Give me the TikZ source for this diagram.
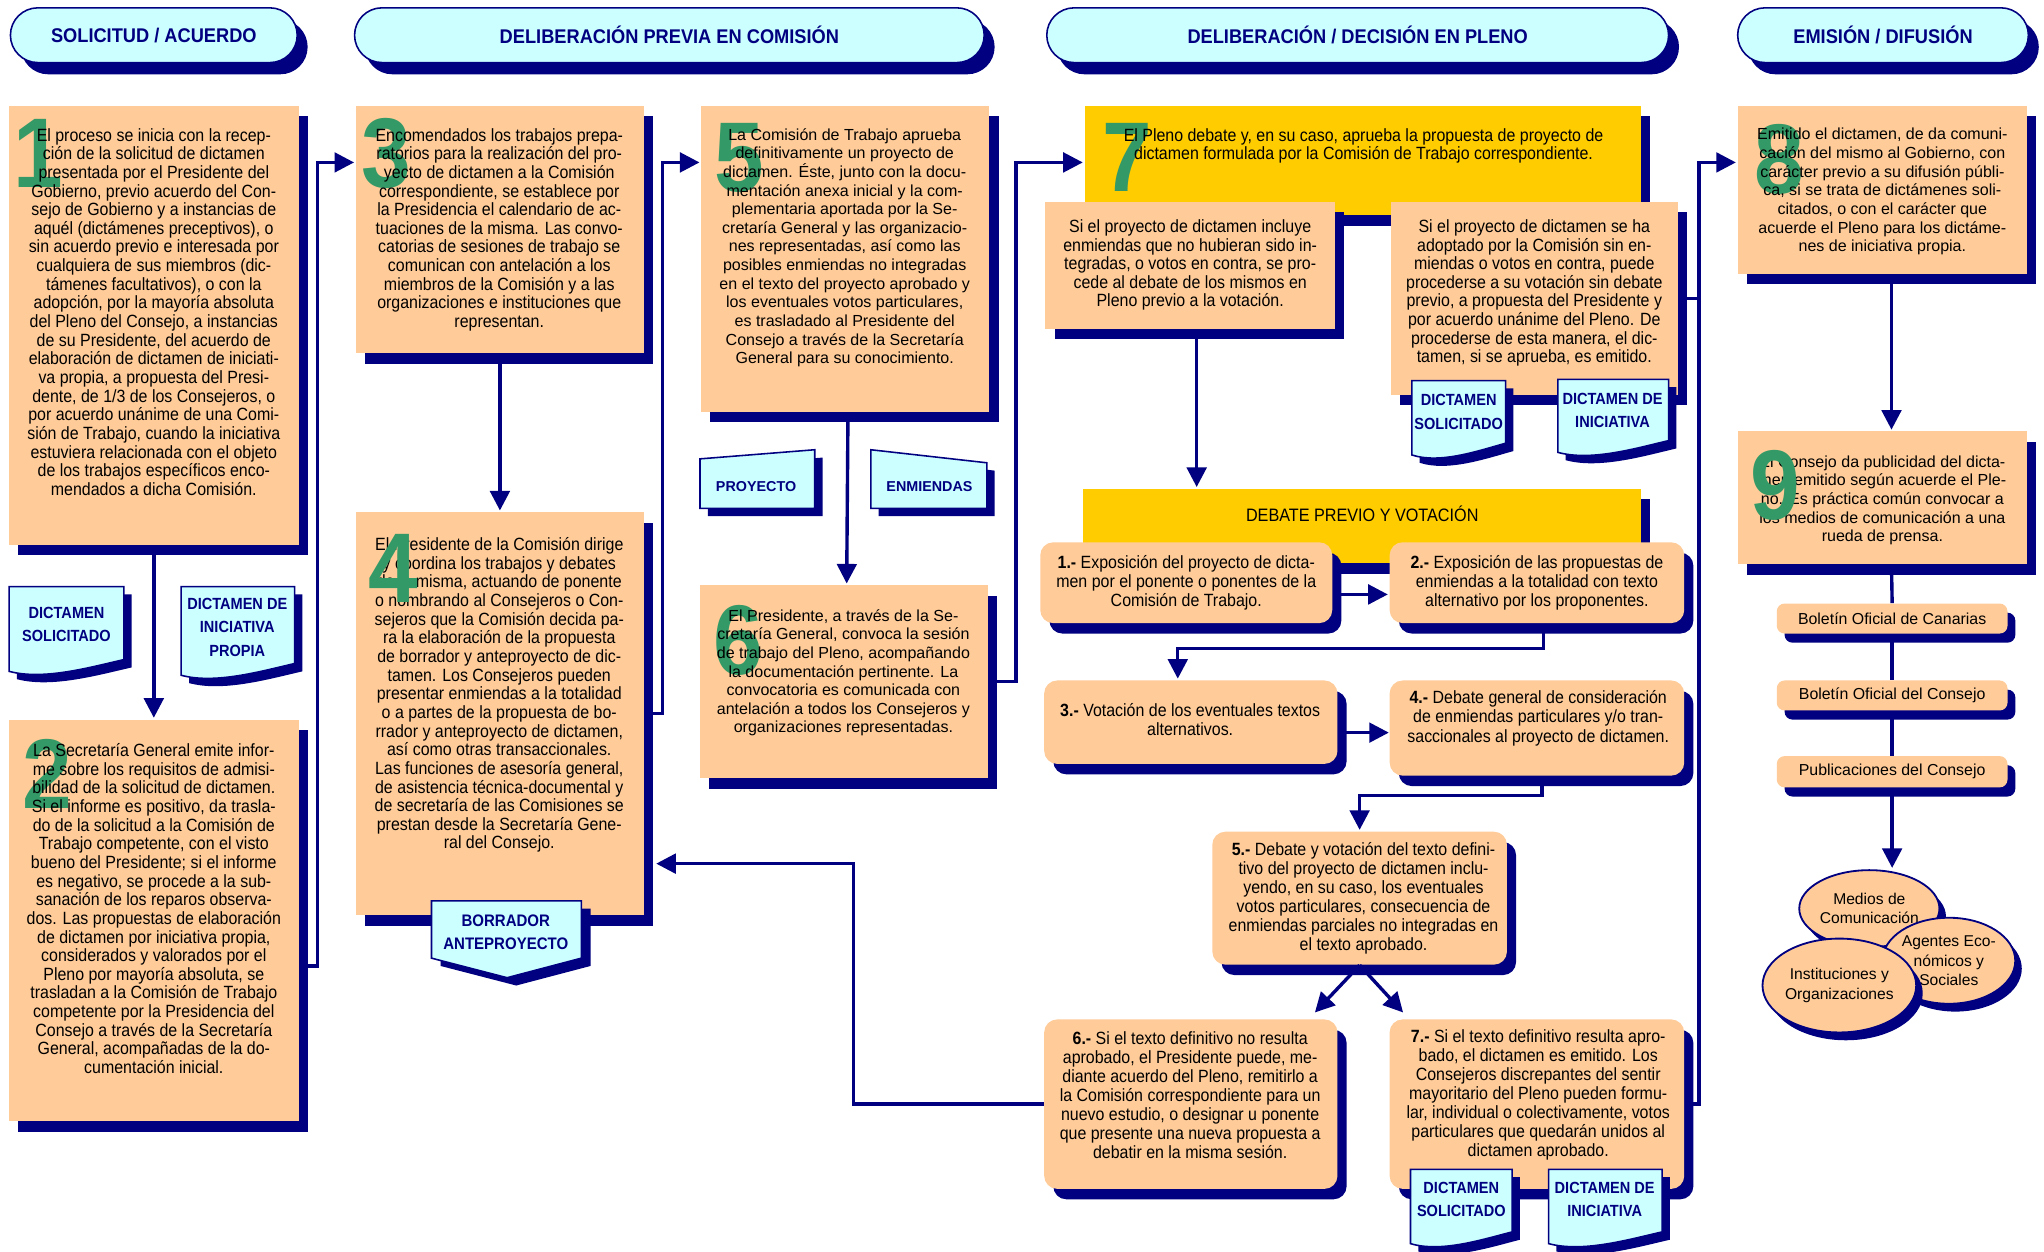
\documentclass[tikz,border=0pt]{standalone}
\usepackage{fontspec}
\setmainfont{Liberation Sans}
\newfontfamily\nar[FakeStretch=0.9]{Liberation Sans}
\newfontfamily\hdrfont[FakeStretch=0.92]{Liberation Sans}
\usetikzlibrary{shapes.misc,shapes.geometric,shadows,fit,arrows.meta,calc}
\definecolor{navy}{HTML}{000080}
\definecolor{peach}{HTML}{FFCC99}
\definecolor{cyanl}{HTML}{CCFFFF}
\definecolor{gold}{HTML}{FFCC00}
\definecolor{numgreen}{HTML}{339966}
\tikzset{
 shad/.style={general shadow={fill=navy, shadow xshift=3.5pt, shadow yshift=-4pt}},
 pbox/.style={rectangle, fill=peach, inner sep=0pt, shad},
 ybox/.style={rectangle, fill=gold, inner sep=0pt, shad},
 rbox/.style={rectangle, rounded corners=5pt, fill=peach, inner sep=0pt, shad},
 bul/.style={rectangle, rounded corners=3pt, fill=peach, inner sep=0pt, general shadow={fill=navy, shadow xshift=3pt, shadow yshift=-3.5pt}},
 hdr/.style={rectangle, rounded corners=10.5pt, draw=navy, line width=0.6pt, fill=cyanl, inner sep=0pt, general shadow={fill=navy, shadow xshift=4pt, shadow yshift=-4.5pt}},
 hdrtxt/.style={font=\hdrfont\bfseries\fontsize{7.6}{9}\selectfont, text=navy, inner sep=0pt},
 tn/.style={font=\nar\fontsize{6.8}{7.15}\selectfont, align=center, inner sep=0pt, anchor=north},
 tr/.style={font=\fontsize{6.15}{7.15}\selectfont, align=center, inner sep=0pt, anchor=north},
 stp/.style={font=\nar\fontsize{6.8}{7.3}\selectfont, align=center, inner sep=0pt},
 bultxt/.style={font=\fontsize{6.1}{7}\selectfont, inner sep=0pt},
 ell/.style={ellipse, draw=navy, line width=0.7pt, fill=peach, align=center, inner sep=0pt, font=\fontsize{6}{7.4}\selectfont, general shadow={fill=navy, shadow xshift=2.5pt, shadow yshift=-3pt}},
 bignum/.style={font=\nar\bfseries\fontsize{38}{38}\selectfont, text=numgreen, inner sep=0pt},
 conn/.style={draw=navy, line width=1.3pt, -{Triangle[length=7.5pt,width=7.5pt]}, shorten >=0.5pt},
 navline/.style={draw=navy, line width=1.3pt},
 docfill/.style={fill=cyanl, draw=navy, line width=0.6pt},
 doctxt/.style={font=\nar\bfseries\fontsize{6.2}{9}\selectfont, text=navy, align=center, inner sep=0pt},
 tagtxt/.style={font=\bfseries\fontsize{5.5}{7}\selectfont, text=navy, inner sep=0pt},
}
% document shape: x1 y1 x2 y2
\newcommand\docsh[4]{%
 \fill[navy, shift={(6,6)}] (#1,#2) -- (#3,#2) -- (#3,#4-12) .. controls ({#1+0.7*(#3-#1)},#4-6) and ({#1+0.3*(#3-#1)},#4+4) .. (#1,#4-3) -- cycle;
 \filldraw[docfill] (#1,#2) -- (#3,#2) -- (#3,#4-12) .. controls ({#1+0.7*(#3-#1)},#4-6) and ({#1+0.3*(#3-#1)},#4+4) .. (#1,#4-3) -- cycle;
}
\begin{document}
\begin{tikzpicture}[x=0.5pt,y=-0.5pt]
\useasboundingbox[fill=white] (0,0) rectangle (1568,960);

% ---------- headers ----------
\node[hdr, fit={(8,6) (228,48)}] (h1) {};
\node[hdrtxt] (h1t) at (h1) {SOLICITUD / ACUERDO};
\node[hdr, fit={(272,6) (755,48)}] (h2) {};
\node[hdrtxt] (h2t) at (h2) {DELIBERACIÓN PREVIA EN COMISIÓN};
\node[hdr, fit={(803,6) (1280,48)}] (h3) {};
\node[hdrtxt] (h3t) at (h3) {DELIBERACIÓN / DECISIÓN EN PLENO};
\node[hdr, fit={(1333,6) (1556,48)}] (h4) {};
\node[hdrtxt] (h4t) at (h4) {EMISIÓN / DIFUSIÓN};

% ---------- column 1 ----------
\node[pbox, fit={(7,81) (229,418)}] (b1) {};
\node[bignum] (n1) at (29,118) {1};
\node[tn] (t1) at (118,98) {El proceso se inicia con la recep-\\ción de la solicitud de dictamen\\presentada por el Presidente del\\Gobierno, previo acuerdo del Con-\\sejo de Gobierno y a instancias de\\aquél (dictámenes preceptivos), o\\sin acuerdo previo e interesada por\\cualquiera de sus miembros (dic-\\támenes facultativos), o con la\\adopción, por la mayoría absoluta\\del Pleno del Consejo, a instancias\\de su Presidente, del acuerdo de\\elaboración de dictamen de iniciati-\\va propia, a propuesta del Presi-\\dente, de 1/3 de los Consejeros, o\\por acuerdo unánime de una Comi-\\sión de Trabajo, cuando la iniciativa\\estuviera relacionada con el objeto\\de los trabajos específicos enco-\\mendados a dicha Comisión.};

\docsh{7}{450}{95}{518}
\node[doctxt] (d1) at (51,479) {DICTAMEN\\SOLICITADO};
\docsh{139}{450}{226}{521}
\node[doctxt] (d2) at (182,481) {DICTAMEN DE\\INICIATIVA\\PROPIA};

\node[pbox, fit={(7,552) (229,860)}] (b2) {};
\node[bignum] (n2) at (36,594) {2};
\node[tn] (t2) at (118,570) {La Secretaría General emite infor-\\me sobre los requisitos de admisi-\\bilidad de la solicitud de dictamen.\\Si el informe es positivo, da trasla-\\do de la solicitud a la Comisión de\\Trabajo competente, con el visto\\bueno del Presidente; si el informe\\es negativo, se procede a la sub-\\sanación de los reparos observa-\\dos. Las propuestas de elaboración\\de dictamen por iniciativa propia,\\considerados y valorados por el\\Pleno por mayoría absoluta, se\\trasladan a la Comisión de Trabajo\\competente por la Presidencia del\\Consejo a través de la Secretaría\\General, acompañadas de la do-\\cumentación inicial.};

% ---------- column 2 ----------
\node[pbox, fit={(273,81) (494,271)}] (b3) {};
\node[bignum] (n3) at (296,118) {3};
\node[tn] (t3) at (383,98) {Encomendados los trabajos prepa-\\ratorios para la realización del pro-\\yecto de dictamen a la Comisión\\correspondiente, se establece por\\la Presidencia el calendario de ac-\\tuaciones de la misma. Las convo-\\catorias de sesiones de trabajo se\\comunican con antelación a los\\miembros de la Comisión y a las\\organizaciones e instituciones que\\representan.};

\node[pbox, fit={(273,393) (494,702)}] (b4) {};
\node[tn] (t4) at (383,412) {El Presidente de la Comisión dirige\\y coordina los trabajos y debates\\de la misma, actuando de ponente\\o nombrando al Consejeros o Con-\\sejeros que la Comisión decida pa-\\ra la elaboración de la propuesta\\de borrador y anteproyecto de dic-\\tamen. Los Consejeros pueden\\presentar enmiendas a la totalidad\\o a partes de la propuesta de bo-\\rrador y anteproyecto de dictamen,\\así como otras transaccionales.\\Las funciones de asesoría general,\\de asistencia técnica-documental y\\de secretaría de las Comisiones se\\prestan desde la Secretaría Gene-\\ral del Consejo.};
\node[bignum] (n4) at (302,436) {4};

\fill[navy, shift={(7,6)}] (331,691) -- (446,691) -- (446,735) -- (389,750) -- (331,735) -- cycle;
\filldraw[docfill] (331,691) -- (446,691) -- (446,735) -- (389,750) -- (331,735) -- cycle;
\node[doctxt, font=\nar\bfseries\fontsize{6.4}{9}\selectfont] (bor) at (388,715) {BORRADOR\\ANTEPROYECTO};

% ---------- column 3 ----------
\node[pbox, fit={(538,81) (759,316)}] (b5) {};
\node[bignum] (n5) at (567,121) {5};
\node[tr] (t5) at (648,98) {La Comisión de Trabajo aprueba\\definitivamente un proyecto de\\dictamen. Éste, junto con la docu-\\mentación anexa inicial y la com-\\plementaria aportada por la Se-\\cretaría General y las organizacio-\\nes representadas, así como las\\posibles enmiendas no integradas\\en el texto del proyecto aprobado y\\los eventuales votos particulares,\\es trasladado al Presidente del\\Consejo a través de la Secretaría\\General para su conocimiento.};

\fill[navy, shift={(6,6)}] (537,352) -- (625,345) -- (625,390) -- (537,390) -- cycle;
\filldraw[docfill] (537,352) -- (625,345) -- (625,390) -- (537,390) -- cycle;
\node[tagtxt] (proy) at (580,373) {PROYECTO};
\fill[navy, shift={(6,6)}] (668,345) -- (757,355) -- (757,390) -- (668,390) -- cycle;
\filldraw[docfill] (668,345) -- (757,355) -- (757,390) -- (668,390) -- cycle;
\node[tagtxt] (enm) at (713,373) {ENMIENDAS};

\node[pbox, fit={(537,449) (758,597)}] (b6) {};
\node[bignum] (n6) at (566,491) {6};
\node[tr] (t6) at (647,467) {El Presidente, a través de la Se-\\cretaría General, convoca la sesión\\de trabajo del Pleno, acompañando\\la documentación pertinente. La\\convocatoria es comunicada con\\antelación a todos los Consejeros y\\organizaciones representadas.};

% ---------- column 4 ----------
\node[ybox, fit={(832,81) (1259,165)}] (b7) {};
\node[bignum] (n7) at (865,121) {7};
\node[tn] (t7) at (1046,98) {El Pleno debate y, en su caso, aprueba la propuesta de proyecto de\\dictamen formulada por la Comisión de Trabajo correspondiente.};

\node[pbox, fit={(802,155) (1024,252)}] (s7a) {};
\node[tn] (t7a) at (913,168) {Si el proyecto de dictamen incluye\\enmiendas que no hubieran sido in-\\tegradas, o votos en contra, se pro-\\cede al debate de los mismos en\\Pleno previo a la votación.};
\node[pbox, fit={(1067,155) (1287,303)}] (s7b) {};
\node[tn] (t7b) at (1177,168) {Si el proyecto de dictamen se ha\\adoptado por la Comisión sin en-\\miendas o votos en contra, puede\\procederse a su votación sin debate\\previo, a propuesta del Presidente y\\por acuerdo unánime del Pleno. De\\procederse de esta manera, el dic-\\tamen, si se aprueba, es emitido.};
\docsh{1083}{292}{1155}{352}
\node[doctxt] (d3) at (1119,316) {DICTAMEN\\SOLICITADO};
\docsh{1195}{291}{1280}{350}
\node[doctxt] (d4) at (1237,315) {DICTAMEN DE\\INICIATIVA};

\node[ybox, fit={(831,375) (1259,432)}] (deb) {};
\node[font=\nar\fontsize{6.9}{8}\selectfont, inner sep=0pt] (debt) at (1045,394) {DEBATE PREVIO Y VOTACIÓN};

\node[rbox, fit={(798,416) (1022,478)}] (st1) {};
\node[stp] (st1t) at (910,447) {\textbf{1.-} Exposición del proyecto de dicta-\\men por el ponente o ponentes de la\\Comisión de Trabajo.};
\node[rbox, fit={(1066,416) (1292,478)}] (st2) {};
\node[stp] (st2t) at (1179,447) {\textbf{2.-} Exposición de las propuestas de\\enmiendas a la totalidad con texto\\alternativo por los proponentes.};
\node[rbox, fit={(801,522) (1026,586)}] (st3) {};
\node[stp] (st3t) at (913,552) {\textbf{3.-} Votación de los eventuales textos\\alternativos.};
\node[rbox, fit={(1066,522) (1292,595)}] (st4) {};
\node[stp] (st4t) at (1180,551) {\textbf{4.-} Debate general de consideración\\de enmiendas particulares y/o tran-\\saccionales al proyecto de dictamen.};
\node[rbox, fit={(930,638) (1156,740)}] (st5) {};
\node[stp] (st5t) at (1046,689) {\textbf{5.-} Debate y votación del texto defini-\\tivo del proyecto de dictamen inclu-\\yendo, en su caso, los eventuales\\votos particulares, consecuencia de\\enmiendas parciales no integradas en\\el texto aprobado.};
\node[rbox, fit={(801,782) (1026,912)}] (st6) {};
\node[stp] (st6t) at (913,840) {\textbf{6.-} Si el texto definitivo no resulta\\aprobado, el Presidente puede, me-\\diante acuerdo del Pleno, remitirlo a\\la Comisión correspondiente para un\\nuevo estudio, o designar u ponente\\que presente una nueva propuesta a\\debatir en la misma sesión.};
\node[rbox, fit={(1066,782) (1292,912)}] (st7) {};
\node[stp] (st7t) at (1180,840) {\textbf{7.-} Si el texto definitivo resulta apro-\\bado, el dictamen es emitido. Los\\Consejeros discrepantes del sentir\\mayoritario del Pleno pueden formu-\\lar, individual o colectivamente, votos\\particulares que quedarán unidos al\\dictamen aprobado.};
\docsh{1082}{897}{1160}{957}
\node[doctxt] (d5) at (1121,920) {DICTAMEN\\SOLICITADO};
\docsh{1188}{897}{1275}{957}
\node[doctxt] (d6) at (1231,920) {DICTAMEN DE\\INICIATIVA};

% ---------- column 5 ----------
\node[pbox, fit={(1333,81) (1555,210)}] (b8) {};
\node[bignum] (n8) at (1365,122) {8};
\node[tr] (t8) at (1444,98) {Emitido el dictamen, de da comuni-\\cación del mismo al Gobierno, con\\carácter previo a su difusión públi-\\ca, si se trata de dictámenes soli-\\citados, o con el carácter que\\acuerde el Pleno para los dictáme-\\nes de iniciativa propia.};

\node[pbox, fit={(1333,331) (1555,433)}] (b9) {};
\node[tr] (t9) at (1444,349) {El Consejo da publicidad del dicta-\\men emitido según acuerde el Ple-\\no. Es práctica común convocar a\\los medios de comunicación a una\\rueda de prensa.};
\node[bignum] (n9) at (1362,372) {9};

\node[bul, fit={(1363,463) (1540,486)}] (bul1) {};
\node[bultxt] (bul1t) at (bul1) {Boletín Oficial de Canarias};
\node[bul, fit={(1363,522) (1540,545)}] (bul2) {};
\node[bultxt] (bul2t) at (bul2) {Boletín Oficial del Consejo};
\node[bul, fit={(1363,580) (1540,604)}] (bul3) {};
\node[bultxt] (bul3t) at (bul3) {Publicaciones del Consejo};

\node[ell, minimum width=48.5pt, minimum height=29.5pt] (med) at (1434,697) {Medios de\\Comunicación};
\node[ell, minimum width=48pt, minimum height=33pt] (age) at (1495,737) {Agentes Eco-\\nómicos y\\Sociales};
\node[ell, minimum width=50pt, minimum height=36pt] (ins) at (1411,756) {Instituciones y\\Organizaciones};

% ---------- connectors ----------
\draw[conn] (b1.south) -- (b2.north);
\draw[conn] ([yshift=-17.5pt]b2.east) -- ++(7pt,0) |- ([yshift=-22pt]b3.north west);
\draw[conn] (b3.south) -- (b4.north);
\draw[conn] (b4.east) -- ++(7pt,0) |- ([yshift=-22pt]b5.north west);
\draw[conn] ([xshift=1pt]b5.south) -- ([xshift=1pt]b6.north);
\draw[conn] (b6.east) -- ++(10.5pt,0) |- ([yshift=-22pt]b7.north west);
\draw[conn] ([xshift=2.5pt]s7a.south) -- ([xshift=2.5pt]s7a.south |- deb.north);
\draw[conn] ([yshift=-4.5pt]st1.east) -- ([yshift=-4.5pt]st2.west);
\draw[conn] ([xshift=2.5pt]st2.south) -- ++(0,-9.5pt) -| ([xshift=-5pt]st3.north);
\draw[conn] ([yshift=-4pt]st3.east) -- ++(20pt,0);
\draw[conn] ([xshift=2pt]st4.south) -- ++(0,-7.5pt) -| (st5.north);
\draw[conn] (st5.south) -- ++(-17.5pt,-18.5pt);
\draw[conn] (st5.south) -- ++(17pt,-18.5pt);
\draw[conn] (st6.west) -- ++(-73pt,0) |- ([xshift=4pt,yshift=-57.5pt]b4.east);
\draw[conn] (st7.east) -- ++(5.5pt,0) |- ([yshift=-22pt]b8.north west);
\draw[navline] (s7b.east) -- ++(8pt,0);
\draw[conn] ([xshift=3.5pt]b8.south) -- ([xshift=3.5pt]b9.north);
\draw[navline] ([xshift=3.5pt]b9.south) -- (bul1.north);
\draw[navline] (bul1.south) -- (bul2.north);
\draw[navline] (bul2.south) -- (bul3.north);
\draw[conn] (bul3.south) -- (bul3.south |- med.north);
\end{tikzpicture}
\end{document}
